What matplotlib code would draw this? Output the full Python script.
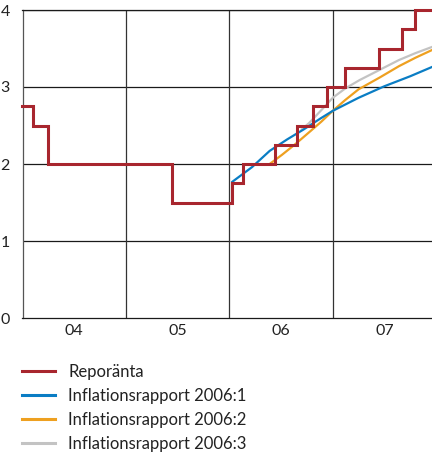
import matplotlib
matplotlib.use("Agg")
import matplotlib.pyplot as plt
from matplotlib.lines import Line2D

plt.rcParams['font.family'] = ['Lato', 'DejaVu Sans']

# Repo rate (decimal year of change, new level)
repo_x = [2004.0, 2004.10, 2004.25, 2005.45, 2006.03, 2006.13, 2006.44, 2006.65,
          2006.81, 2006.94, 2007.115, 2007.45, 2007.67, 2007.80, 2007.96]
repo_y = [2.75, 2.5, 2.0, 1.5, 1.75, 2.0, 2.25, 2.5,
          2.75, 3.0, 3.25, 3.5, 3.75, 4.0, 4.0]

ir1_x = [2006.03, 2006.22, 2006.39, 2006.56, 2006.72, 2006.88, 2007.0, 2007.25, 2007.5, 2007.75, 2007.96]
ir1_y = [1.77, 1.96, 2.17, 2.32, 2.45, 2.59, 2.69, 2.86, 3.01, 3.14, 3.26]

ir2_x = [2006.39, 2006.51, 2006.64, 2006.77, 2006.89, 2007.0, 2007.12, 2007.25, 2007.45, 2007.64, 2007.8, 2007.96]
ir2_y = [2.0, 2.12, 2.26, 2.41, 2.55, 2.69, 2.83, 2.97, 3.12, 3.27, 3.38, 3.48]

ir3_x = [2006.70, 2006.77, 2006.89, 2007.0, 2007.12, 2007.26, 2007.45, 2007.64, 2007.8, 2007.96]
ir3_y = [2.45, 2.53, 2.70, 2.86, 2.98, 3.09, 3.22, 3.35, 3.44, 3.52]

year_labels = ['04', '05', '06', '07']
year_starts = [2004, 2005, 2006, 2007, 2008]
y_ticks = [0, 1, 2, 3, 4]

series_labels = ['Reporänta', 'Inflationsrapport 2006:1',
                 'Inflationsrapport 2006:2', 'Inflationsrapport 2006:3']
colors = ['#A8262E', '#0A7DC4', '#EEA020', '#C3C3C3']

W, H = 432, 453
fig = plt.figure(figsize=(W / 100, H / 100), dpi=100)
ax = fig.add_axes([22.5 / W, 1 - 318 / H, (432 - 22.5) / W, (318 - 10) / H])

ax.set_xlim(2004.0, 2007.96)
ax.set_ylim(0, 4)

# grid
for yv in y_ticks[1:]:
    ax.axhline(yv, color='#1a1a1a', lw=0.9, zorder=1)
for xv in year_starts[1:-1]:
    ax.axvline(xv, color='#333333', lw=0.9, zorder=1)

ax.plot(ir3_x, ir3_y, color=colors[3], lw=1.6, zorder=2)
ax.plot(ir2_x, ir2_y, color=colors[2], lw=1.6, zorder=3)
ax.plot(ir1_x, ir1_y, color=colors[1], lw=1.6, zorder=4)
ax.step(repo_x, repo_y, where='post', color=colors[0], lw=2.2, zorder=5,
        solid_joinstyle='miter', clip_on=False)

ax.spines['right'].set_visible(False)
ax.spines['top'].set_color('#1a1a1a')
ax.spines['bottom'].set_color('#1a1a1a')
ax.spines['left'].set_color('#555555')
for s in ['top', 'bottom', 'left']:
    ax.spines[s].set_linewidth(0.9)

mid = [y + 0.5 for y in year_starts[:-1]]
ax.set_xticks(mid)
ax.set_xticklabels(year_labels)
ax.set_yticks(y_ticks)
ax.set_yticklabels([str(v) for v in y_ticks])
ax.tick_params(axis='both', length=0, labelsize=11.5, colors='#222222')
ax.tick_params(axis='x', pad=4)
ax.tick_params(axis='y', pad=9)

handles = [Line2D([], [], color=c, lw=2.2) for c in colors]
fig.legend(handles, series_labels, loc='upper left',
           bbox_to_anchor=(22 / W, 1 - 364 / H), frameon=False,
           fontsize=12, handlelength=2.0, handletextpad=0.78,
           labelspacing=0.48, borderpad=0, borderaxespad=0,
           labelcolor='#222222')

fig.savefig('out.png', dpi=100)
